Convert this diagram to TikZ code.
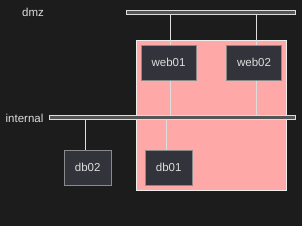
\documentclass[tikz,border=0pt]{standalone}
\usepackage{fontspec}
\setmainfont{Liberation Sans}
\definecolor{bgdark}{HTML}{1C1C1C}
\definecolor{zonepink}{HTML}{FFA8A8}
\definecolor{hostfill}{HTML}{33333B}
\definecolor{hostline}{HTML}{8A8A8A}
\definecolor{busfill}{HTML}{555555}
\definecolor{lightline}{HTML}{DDDDDD}
\begin{document}
\begin{tikzpicture}[x=1pt,y=-1pt,line width=1pt,
	host/.style={draw=hostline,fill=hostfill,text=lightline,minimum height=35pt,inner sep=0pt,font=\fontsize{11.5}{13}\selectfont},
	bus/.style={draw=lightline,fill=busfill,minimum height=4pt,inner sep=0pt},
	netlabel/.style={text=lightline,inner sep=0pt,font=\fontsize{11.5}{13}\selectfont},
	wire/.style={draw=lightline,line width=1pt}]
	% nền
	\fill[bgdark] (0,0) rectangle (302,226);
	% vùng hồng
	\node[draw=white!93!black,fill=zonepink,minimum width=150pt,minimum height=149.5pt,inner sep=0pt] (zone) at (211.5,115.25) {};
	% các đường mạng
	\node[bus,minimum width=169pt] (dmz) at (211,12.5) {};
	\node[bus,minimum width=246pt] (internal) at (172.5,117.5) {};
	\node[netlabel] (dmzlbl) at (33,12.5) {dmz};
	\node[netlabel] (intlbl) at (24.5,118) {internal};
	% các máy
	\node[host,minimum width=55pt] (web01) at (168.5,62.5) {web01};
	\node[host,minimum width=55pt] (web02) at (254,62.5) {web02};
	\node[host,minimum width=46.5pt] (db02) at (87.75,167.5) {db02};
	\node[host,minimum width=46.5pt] (db01) at (168.75,167.5) {db01};
	% dây nối
	\foreach \h/\dx in {web01/2,web02/2}{
		\draw[wire] ([xshift=\dx pt]\h.north) -- ([xshift=\dx pt]\h.north |- dmz.south);
		\draw[wire] ([xshift=\dx pt]\h.south) -- ([xshift=\dx pt]\h.south |- internal.north);
	}
	\foreach \h/\dx in {db01/-2.4,db02/-2}
		\draw[wire] ([xshift=\dx pt]\h.north) -- ([xshift=\dx pt]\h.north |- internal.south);
\end{tikzpicture}
\end{document}
